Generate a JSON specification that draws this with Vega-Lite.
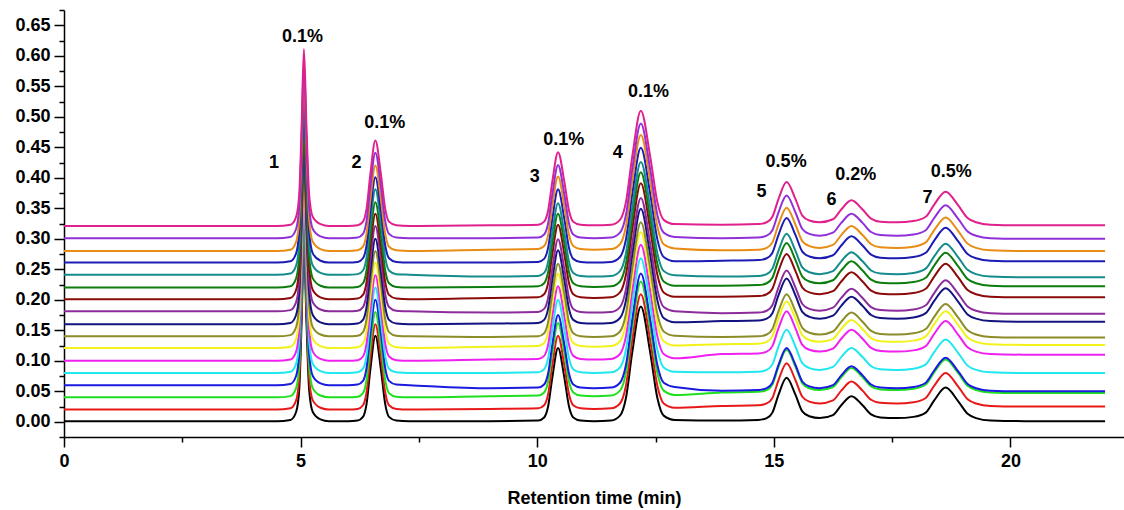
{
  "$schema": "https://vega.github.io/schema/vega-lite/v6.json",
  "width": 1060,
  "height": 427,
  "autosize": {"type": "none"},
  "padding": {"left": 64, "top": 10, "right": 0, "bottom": 73},
  "background": "white",
  "config": {"view": {"stroke": null}, "font": "Liberation Sans"},
  "datasets": {
    "runs": [
      {"t":0,"a":0.001,"b":0.02,"c":0.04,"d":0.06,"e":0.08,"f":0.1,"g":0.121,"h":0.14,"i":0.16,"j":0.181,"k":0.201,"l":0.22,"m":0.241,"n":0.261,"o":0.28,"p":0.301,"q":0.321},
      {"t":4.5,"a":0.001,"b":0.02,"c":0.04,"d":0.06,"e":0.08,"f":0.1,"g":0.121,"h":0.14,"i":0.16,"j":0.181,"k":0.201,"l":0.22,"m":0.241,"n":0.261,"o":0.28,"p":0.301,"q":0.321},
      {"t":4.784,"a":0.003,"b":0.022,"c":0.042,"d":0.062,"e":0.082,"f":0.102,"g":0.123,"h":0.142,"i":0.162,"j":0.183,"k":0.203,"l":0.222,"m":0.243,"n":0.263,"o":0.282,"p":0.303,"q":0.323},
      {"t":4.905,"a":0.016,"b":0.035,"c":0.055,"d":0.075,"e":0.095,"f":0.115,"g":0.136,"h":0.155,"i":0.175,"j":0.196,"k":0.216,"l":0.235,"m":0.256,"n":0.276,"o":0.295,"p":0.316,"q":0.336},
      {"t":4.971,"a":0.053,"b":0.072,"c":0.092,"d":0.112,"e":0.132,"f":0.152,"g":0.173,"h":0.192,"i":0.212,"j":0.233,"k":0.253,"l":0.272,"m":0.293,"n":0.313,"o":0.332,"p":0.353,"q":0.373},
      {"t":5.02,"a":0.161,"b":0.18,"c":0.2,"d":0.22,"e":0.24,"f":0.26,"g":0.281,"h":0.3,"i":0.32,"j":0.341,"k":0.361,"l":0.38,"m":0.401,"n":0.421,"o":0.44,"p":0.461,"q":0.481},
      {"t":5.07,"a":0.291,"b":0.31,"c":0.33,"d":0.35,"e":0.37,"f":0.39,"g":0.411,"h":0.43,"i":0.45,"j":0.471,"k":0.491,"l":0.51,"m":0.531,"n":0.551,"o":0.57,"p":0.591,"q":0.611},
      {"t":5.125,"a":0.161,"b":0.18,"c":0.2,"d":0.22,"e":0.24,"f":0.26,"g":0.281,"h":0.3,"i":0.32,"j":0.341,"k":0.361,"l":0.38,"m":0.401,"n":0.421,"o":0.44,"p":0.461,"q":0.481},
      {"t":5.18,"a":0.053,"b":0.072,"c":0.092,"d":0.112,"e":0.132,"f":0.152,"g":0.173,"h":0.192,"i":0.212,"j":0.233,"k":0.253,"l":0.272,"m":0.293,"n":0.313,"o":0.332,"p":0.353,"q":0.373},
      {"t":5.257,"a":0.016,"b":0.035,"c":0.055,"d":0.075,"e":0.095,"f":0.115,"g":0.136,"h":0.155,"i":0.175,"j":0.196,"k":0.216,"l":0.235,"m":0.256,"n":0.276,"o":0.295,"p":0.316,"q":0.336},
      {"t":5.42,"a":0.004,"b":0.023,"c":0.043,"d":0.063,"e":0.083,"f":0.103,"g":0.124,"h":0.143,"i":0.163,"j":0.184,"k":0.204,"l":0.223,"m":0.244,"n":0.264,"o":0.283,"p":0.304,"q":0.324},
      {"t":5.6,"a":0.001,"b":0.02,"c":0.04,"d":0.06,"e":0.08,"f":0.1,"g":0.121,"h":0.14,"i":0.16,"j":0.181,"k":0.201,"l":0.22,"m":0.241,"n":0.261,"o":0.28,"p":0.301,"q":0.321},
      {"t":6.0,"a":0.001,"b":0.02,"c":0.04,"d":0.06,"e":0.08,"f":0.1,"g":0.121,"h":0.14,"i":0.16,"j":0.181,"k":0.201,"l":0.22,"m":0.241,"n":0.261,"o":0.28,"p":0.301,"q":0.321},
      {"t":6.205,"a":0.002,"b":0.021,"c":0.041,"d":0.061,"e":0.081,"f":0.101,"g":0.122,"h":0.141,"i":0.161,"j":0.182,"k":0.202,"l":0.221,"m":0.242,"n":0.262,"o":0.281,"p":0.302,"q":0.322},
      {"t":6.318,"a":0.008,"b":0.027,"c":0.047,"d":0.067,"e":0.087,"f":0.107,"g":0.128,"h":0.147,"i":0.167,"j":0.188,"k":0.208,"l":0.227,"m":0.248,"n":0.268,"o":0.287,"p":0.308,"q":0.328},
      {"t":6.393,"a":0.029,"b":0.048,"c":0.068,"d":0.088,"e":0.108,"f":0.128,"g":0.149,"h":0.168,"i":0.188,"j":0.209,"k":0.229,"l":0.248,"m":0.269,"n":0.289,"o":0.308,"p":0.329,"q":0.349},
      {"t":6.473,"a":0.085,"b":0.104,"c":0.124,"d":0.144,"e":0.164,"f":0.184,"g":0.205,"h":0.224,"i":0.244,"j":0.265,"k":0.285,"l":0.304,"m":0.325,"n":0.345,"o":0.364,"p":0.385,"q":0.405},
      {"t":6.58,"a":0.141,"b":0.16,"c":0.18,"d":0.2,"e":0.22,"f":0.24,"g":0.261,"h":0.28,"i":0.3,"j":0.321,"k":0.341,"l":0.36,"m":0.381,"n":0.401,"o":0.42,"p":0.441,"q":0.461},
      {"t":6.698,"a":0.085,"b":0.104,"c":0.124,"d":0.144,"e":0.164,"f":0.184,"g":0.205,"h":0.224,"i":0.244,"j":0.265,"k":0.285,"l":0.304,"m":0.325,"n":0.345,"o":0.364,"p":0.385,"q":0.405},
      {"t":6.788,"a":0.029,"b":0.048,"c":0.068,"d":0.088,"e":0.108,"f":0.128,"g":0.149,"h":0.168,"i":0.188,"j":0.209,"k":0.229,"l":0.248,"m":0.269,"n":0.289,"o":0.308,"p":0.329,"q":0.349},
      {"t":6.868,"a":0.008,"b":0.027,"c":0.047,"d":0.067,"e":0.087,"f":0.107,"g":0.128,"h":0.147,"i":0.167,"j":0.188,"k":0.208,"l":0.227,"m":0.248,"n":0.268,"o":0.287,"p":0.308,"q":0.328},
      {"t":7.02,"a":0.002,"b":0.021,"c":0.041,"d":0.061,"e":0.081,"f":0.101,"g":0.122,"h":0.141,"i":0.161,"j":0.182,"k":0.202,"l":0.221,"m":0.242,"n":0.262,"o":0.281,"p":0.302,"q":0.322},
      {"t":7.3,"a":0.001,"b":0.02,"c":0.04,"d":0.06,"e":0.08,"f":0.1,"g":0.121,"h":0.14,"i":0.16,"j":0.181,"k":0.201,"l":0.22,"m":0.241,"n":0.261,"o":0.28,"p":0.301,"q":0.321},
      {"t":9.0,"a":0.001,"b":0.021,"c":0.042,"d":0.055,"e":0.08,"f":0.102,"g":0.123,"h":0.139,"i":0.161,"j":0.179,"k":0.203,"l":0.221,"m":0.238,"n":0.261,"o":0.282,"p":0.301,"q":0.322},
      {"t":10.02,"a":0.002,"b":0.022,"c":0.043,"d":0.056,"e":0.081,"f":0.103,"g":0.124,"h":0.14,"i":0.162,"j":0.18,"k":0.204,"l":0.222,"m":0.239,"n":0.262,"o":0.283,"p":0.302,"q":0.323},
      {"t":10.146,"a":0.007,"b":0.027,"c":0.048,"d":0.061,"e":0.086,"f":0.108,"g":0.129,"h":0.145,"i":0.167,"j":0.185,"k":0.209,"l":0.227,"m":0.244,"n":0.267,"o":0.288,"p":0.307,"q":0.328},
      {"t":10.23,"a":0.025,"b":0.045,"c":0.066,"d":0.079,"e":0.104,"f":0.126,"g":0.147,"h":0.163,"i":0.185,"j":0.203,"k":0.227,"l":0.245,"m":0.262,"n":0.285,"o":0.306,"p":0.325,"q":0.346},
      {"t":10.32,"a":0.073,"b":0.093,"c":0.114,"d":0.127,"e":0.152,"f":0.174,"g":0.195,"h":0.211,"i":0.233,"j":0.251,"k":0.275,"l":0.293,"m":0.31,"n":0.333,"o":0.354,"p":0.373,"q":0.394},
      {"t":10.44,"a":0.121,"b":0.141,"c":0.162,"d":0.175,"e":0.2,"f":0.222,"g":0.243,"h":0.259,"i":0.281,"j":0.299,"k":0.323,"l":0.341,"m":0.358,"n":0.381,"o":0.402,"p":0.421,"q":0.442},
      {"t":10.572,"a":0.073,"b":0.093,"c":0.114,"d":0.127,"e":0.152,"f":0.174,"g":0.195,"h":0.211,"i":0.233,"j":0.251,"k":0.275,"l":0.293,"m":0.31,"n":0.333,"o":0.354,"p":0.373,"q":0.394},
      {"t":10.672,"a":0.025,"b":0.045,"c":0.066,"d":0.079,"e":0.104,"f":0.126,"g":0.147,"h":0.163,"i":0.185,"j":0.203,"k":0.227,"l":0.245,"m":0.262,"n":0.285,"o":0.306,"p":0.325,"q":0.346},
      {"t":10.762,"a":0.007,"b":0.027,"c":0.048,"d":0.061,"e":0.086,"f":0.108,"g":0.129,"h":0.145,"i":0.167,"j":0.185,"k":0.209,"l":0.227,"m":0.244,"n":0.267,"o":0.288,"p":0.307,"q":0.328},
      {"t":10.916,"a":0.002,"b":0.022,"c":0.043,"d":0.056,"e":0.081,"f":0.103,"g":0.124,"h":0.14,"i":0.162,"j":0.18,"k":0.204,"l":0.222,"m":0.239,"n":0.262,"o":0.283,"p":0.302,"q":0.323},
      {"t":11.2,"a":0.001,"b":0.021,"c":0.042,"d":0.055,"e":0.08,"f":0.102,"g":0.123,"h":0.139,"i":0.161,"j":0.179,"k":0.203,"l":0.221,"m":0.238,"n":0.261,"o":0.282,"p":0.301,"q":0.322},
      {"t":11.56,"a":0.002,"b":0.022,"c":0.043,"d":0.056,"e":0.081,"f":0.103,"g":0.124,"h":0.14,"i":0.162,"j":0.18,"k":0.204,"l":0.222,"m":0.239,"n":0.262,"o":0.283,"p":0.302,"q":0.323},
      {"t":11.749,"a":0.01,"b":0.03,"c":0.051,"d":0.064,"e":0.089,"f":0.111,"g":0.132,"h":0.148,"i":0.17,"j":0.188,"k":0.212,"l":0.23,"m":0.247,"n":0.27,"o":0.291,"p":0.31,"q":0.331},
      {"t":11.875,"a":0.039,"b":0.059,"c":0.08,"d":0.093,"e":0.118,"f":0.14,"g":0.161,"h":0.177,"i":0.199,"j":0.217,"k":0.241,"l":0.259,"m":0.276,"n":0.299,"o":0.32,"p":0.339,"q":0.36},
      {"t":12.009,"a":0.114,"b":0.134,"c":0.155,"d":0.168,"e":0.193,"f":0.215,"g":0.236,"h":0.252,"i":0.274,"j":0.292,"k":0.316,"l":0.334,"m":0.351,"n":0.374,"o":0.395,"p":0.414,"q":0.435},
      {"t":12.19,"a":0.189,"b":0.209,"c":0.23,"d":0.243,"e":0.268,"f":0.29,"g":0.311,"h":0.327,"i":0.349,"j":0.367,"k":0.391,"l":0.409,"m":0.426,"n":0.449,"o":0.47,"p":0.489,"q":0.51},
      {"t":12.387,"a":0.114,"b":0.134,"c":0.155,"d":0.168,"e":0.193,"f":0.215,"g":0.236,"h":0.252,"i":0.274,"j":0.292,"k":0.316,"l":0.334,"m":0.351,"n":0.374,"o":0.395,"p":0.414,"q":0.435},
      {"t":12.539,"a":0.039,"b":0.059,"c":0.08,"d":0.093,"e":0.118,"f":0.14,"g":0.161,"h":0.177,"i":0.199,"j":0.217,"k":0.241,"l":0.259,"m":0.276,"n":0.299,"o":0.32,"p":0.339,"q":0.36},
      {"t":12.673,"a":0.01,"b":0.03,"c":0.051,"d":0.064,"e":0.089,"f":0.111,"g":0.132,"h":0.148,"i":0.17,"j":0.188,"k":0.212,"l":0.23,"m":0.247,"n":0.27,"o":0.291,"p":0.31,"q":0.331},
      {"t":12.904,"a":0.003,"b":0.023,"c":0.044,"d":0.057,"e":0.082,"f":0.104,"g":0.125,"h":0.141,"i":0.163,"j":0.181,"k":0.205,"l":0.223,"m":0.24,"n":0.263,"o":0.284,"p":0.303,"q":0.324},
      {"t":13.9,"a":0.002,"b":0.026,"c":0.048,"d":0.051,"e":0.081,"f":0.111,"g":0.127,"h":0.139,"i":0.165,"j":0.178,"k":0.205,"l":0.223,"m":0.238,"n":0.264,"o":0.281,"p":0.301,"q":0.323},
      {"t":14.67,"a":0.003,"b":0.027,"c":0.049,"d":0.052,"e":0.082,"f":0.112,"g":0.128,"h":0.14,"i":0.166,"j":0.179,"k":0.206,"l":0.224,"m":0.239,"n":0.265,"o":0.282,"p":0.302,"q":0.324},
      {"t":14.85,"a":0.006,"b":0.03,"c":0.052,"d":0.055,"e":0.085,"f":0.115,"g":0.131,"h":0.143,"i":0.169,"j":0.182,"k":0.209,"l":0.227,"m":0.242,"n":0.268,"o":0.285,"p":0.305,"q":0.327},
      {"t":14.97,"a":0.015,"b":0.039,"c":0.061,"d":0.064,"e":0.094,"f":0.124,"g":0.14,"h":0.152,"i":0.178,"j":0.191,"k":0.218,"l":0.236,"m":0.251,"n":0.277,"o":0.294,"p":0.314,"q":0.336},
      {"t":15.098,"a":0.044,"b":0.068,"c":0.09,"d":0.093,"e":0.123,"f":0.153,"g":0.169,"h":0.181,"i":0.207,"j":0.22,"k":0.247,"l":0.265,"m":0.28,"n":0.306,"o":0.323,"p":0.343,"q":0.365},
      {"t":15.27,"a":0.072,"b":0.096,"c":0.118,"d":0.121,"e":0.151,"f":0.181,"g":0.197,"h":0.209,"i":0.235,"j":0.248,"k":0.275,"l":0.293,"m":0.308,"n":0.334,"o":0.351,"p":0.371,"q":0.393},
      {"t":15.458,"a":0.044,"b":0.068,"c":0.09,"d":0.093,"e":0.123,"f":0.153,"g":0.169,"h":0.181,"i":0.207,"j":0.22,"k":0.247,"l":0.265,"m":0.28,"n":0.306,"o":0.323,"p":0.343,"q":0.365},
      {"t":15.602,"a":0.017,"b":0.041,"c":0.063,"d":0.066,"e":0.096,"f":0.126,"g":0.142,"h":0.154,"i":0.18,"j":0.193,"k":0.22,"l":0.238,"m":0.253,"n":0.279,"o":0.296,"p":0.316,"q":0.338},
      {"t":15.75,"a":0.009,"b":0.033,"c":0.055,"d":0.058,"e":0.088,"f":0.118,"g":0.134,"h":0.146,"i":0.172,"j":0.185,"k":0.212,"l":0.23,"m":0.245,"n":0.271,"o":0.288,"p":0.308,"q":0.33},
      {"t":15.97,"a":0.006,"b":0.03,"c":0.052,"d":0.055,"e":0.085,"f":0.115,"g":0.131,"h":0.143,"i":0.169,"j":0.182,"k":0.209,"l":0.227,"m":0.242,"n":0.268,"o":0.285,"p":0.305,"q":0.327},
      {"t":16.25,"a":0.011,"b":0.035,"c":0.057,"d":0.06,"e":0.09,"f":0.12,"g":0.136,"h":0.148,"i":0.174,"j":0.187,"k":0.214,"l":0.232,"m":0.247,"n":0.273,"o":0.29,"p":0.31,"q":0.332},
      {"t":16.425,"a":0.027,"b":0.051,"c":0.073,"d":0.076,"e":0.106,"f":0.136,"g":0.152,"h":0.164,"i":0.19,"j":0.203,"k":0.23,"l":0.248,"m":0.263,"n":0.289,"o":0.306,"p":0.326,"q":0.348},
      {"t":16.64,"a":0.042,"b":0.066,"c":0.088,"d":0.091,"e":0.121,"f":0.151,"g":0.167,"h":0.179,"i":0.205,"j":0.218,"k":0.245,"l":0.263,"m":0.278,"n":0.304,"o":0.321,"p":0.341,"q":0.363},
      {"t":16.875,"a":0.027,"b":0.051,"c":0.073,"d":0.076,"e":0.106,"f":0.136,"g":0.152,"h":0.164,"i":0.19,"j":0.203,"k":0.23,"l":0.248,"m":0.263,"n":0.289,"o":0.306,"p":0.326,"q":0.348},
      {"t":17.055,"a":0.012,"b":0.036,"c":0.058,"d":0.061,"e":0.091,"f":0.121,"g":0.137,"h":0.149,"i":0.175,"j":0.188,"k":0.215,"l":0.233,"m":0.248,"n":0.274,"o":0.291,"p":0.311,"q":0.333},
      {"t":17.25,"a":0.007,"b":0.031,"c":0.053,"d":0.056,"e":0.086,"f":0.116,"g":0.132,"h":0.144,"i":0.17,"j":0.183,"k":0.21,"l":0.228,"m":0.243,"n":0.269,"o":0.286,"p":0.306,"q":0.328},
      {"t":17.6,"a":0.006,"b":0.03,"c":0.052,"d":0.055,"e":0.085,"f":0.115,"g":0.131,"h":0.143,"i":0.169,"j":0.182,"k":0.209,"l":0.227,"m":0.242,"n":0.268,"o":0.285,"p":0.305,"q":0.327},
      {"t":17.95,"a":0.008,"b":0.032,"c":0.054,"d":0.057,"e":0.087,"f":0.117,"g":0.133,"h":0.145,"i":0.171,"j":0.184,"k":0.211,"l":0.229,"m":0.244,"n":0.27,"o":0.287,"p":0.307,"q":0.329},
      {"t":18.21,"a":0.015,"b":0.039,"c":0.061,"d":0.064,"e":0.094,"f":0.124,"g":0.14,"h":0.152,"i":0.178,"j":0.191,"k":0.218,"l":0.236,"m":0.251,"n":0.277,"o":0.294,"p":0.314,"q":0.336},
      {"t":18.389,"a":0.035,"b":0.059,"c":0.081,"d":0.084,"e":0.114,"f":0.144,"g":0.16,"h":0.172,"i":0.198,"j":0.211,"k":0.238,"l":0.256,"m":0.271,"n":0.297,"o":0.314,"p":0.334,"q":0.356},
      {"t":18.63,"a":0.056,"b":0.08,"c":0.102,"d":0.105,"e":0.135,"f":0.165,"g":0.181,"h":0.193,"i":0.219,"j":0.232,"k":0.259,"l":0.277,"m":0.292,"n":0.318,"o":0.335,"p":0.355,"q":0.377},
      {"t":18.893,"a":0.034,"b":0.058,"c":0.08,"d":0.083,"e":0.113,"f":0.143,"g":0.159,"h":0.171,"i":0.197,"j":0.21,"k":0.237,"l":0.255,"m":0.27,"n":0.296,"o":0.313,"p":0.333,"q":0.355},
      {"t":19.095,"a":0.013,"b":0.037,"c":0.059,"d":0.062,"e":0.092,"f":0.122,"g":0.138,"h":0.15,"i":0.176,"j":0.189,"k":0.216,"l":0.234,"m":0.249,"n":0.275,"o":0.292,"p":0.312,"q":0.334},
      {"t":19.274,"a":0.006,"b":0.03,"c":0.052,"d":0.055,"e":0.085,"f":0.115,"g":0.131,"h":0.143,"i":0.169,"j":0.182,"k":0.209,"l":0.227,"m":0.242,"n":0.268,"o":0.285,"p":0.305,"q":0.327},
      {"t":19.58,"a":0.002,"b":0.026,"c":0.048,"d":0.051,"e":0.081,"f":0.111,"g":0.127,"h":0.139,"i":0.165,"j":0.178,"k":0.205,"l":0.223,"m":0.238,"n":0.264,"o":0.281,"p":0.301,"q":0.323},
      {"t":20.3,"a":0.001,"b":0.025,"c":0.047,"d":0.05,"e":0.08,"f":0.11,"g":0.126,"h":0.138,"i":0.164,"j":0.177,"k":0.204,"l":0.222,"m":0.237,"n":0.263,"o":0.28,"p":0.3,"q":0.322},
      {"t":22.0,"a":0.001,"b":0.025,"c":0.047,"d":0.05,"e":0.08,"f":0.11,"g":0.126,"h":0.138,"i":0.164,"j":0.177,"k":0.204,"l":0.222,"m":0.237,"n":0.263,"o":0.28,"p":0.3,"q":0.322}
    ],
    "labels": [
      {"t":4.44,"abs":0.425,"s":"1"},
      {"t":5.04,"abs":0.631,"s":"0.1%"},
      {"t":6.18,"abs":0.425,"s":"2"},
      {"t":6.78,"abs":0.489,"s":"0.1%"},
      {"t":9.95,"abs":0.401,"s":"3"},
      {"t":10.56,"abs":0.462,"s":"0.1%"},
      {"t":11.7,"abs":0.441,"s":"4"},
      {"t":12.35,"abs":0.541,"s":"0.1%"},
      {"t":14.74,"abs":0.377,"s":"5"},
      {"t":15.26,"abs":0.426,"s":"0.5%"},
      {"t":16.22,"abs":0.363,"s":"6"},
      {"t":16.73,"abs":0.404,"s":"0.2%"},
      {"t":18.25,"abs":0.366,"s":"7"},
      {"t":18.75,"abs":0.409,"s":"0.5%"}
    ]
  },
  "encoding": {
    "x": {
      "field": "t",
      "type": "quantitative",
      "scale": {"domain": [0, 22.4], "nice": false, "zero": false},
      "axis": {
        "title": "Retention time (min)",
        "titleFontSize": 18,
        "titleFontWeight": "bold",
        "titleColor": "black",
        "titlePadding": 19,
        "values": [0, 2.5, 5, 7.5, 10, 12.5, 15, 17.5, 20],
        "labelExpr": "datum.value % 5 === 0 ? datum.label : ''",
        "labelFontSize": 18,
        "labelFontWeight": "bold",
        "labelColor": "black",
        "labelPadding": 5,
        "labelFlush": false,
        "labelOverlap": false,
        "tickSize": {"condition": {"test": "datum.value % 5 === 0", "value": 10}, "value": 5},
        "tickColor": "black",
        "tickWidth": 1.5,
        "domainColor": "black",
        "domainWidth": 1.5,
        "grid": false
      }
    },
    "y": {
      "field": "abs",
      "type": "quantitative",
      "scale": {"domain": [-0.025, 0.675], "nice": false, "zero": false},
      "axis": {
        "title": null,
        "values": [-0.025, 0, 0.025, 0.05, 0.075, 0.1, 0.125, 0.15, 0.175, 0.2, 0.225, 0.25, 0.275, 0.3, 0.325, 0.35, 0.375, 0.4, 0.425, 0.45, 0.475, 0.5, 0.525, 0.55, 0.575, 0.6, 0.625, 0.65, 0.675],
        "labelExpr": "round(datum.value * 1000) % 50 === 0 ? format(datum.value, '.2f') : ''",
        "labelFontSize": 18,
        "labelFontWeight": "bold",
        "labelColor": "black",
        "labelPadding": 4,
        "labelFlush": false,
        "labelOverlap": false,
        "tickSize": {"condition": {"test": "round(datum.value * 1000) % 50 === 0", "value": 10}, "value": 5},
        "tickColor": "black",
        "tickWidth": 1.5,
        "domainColor": "black",
        "domainWidth": 1.5,
        "grid": false
      }
    }
  },
  "layer": [
    {
      "data": {"name": "runs"},
      "transform": [
        {"fold": ["a","b","c","d","e","f","g","h","i","j","k","l","m","n","o","p","q"], "as": ["run", "abs"]}
      ],
      "mark": {"type": "line", "interpolate": "monotone", "strokeWidth": 2},
      "encoding": {
        "color": {
          "field": "run",
          "type": "nominal",
          "scale": {
            "domain": ["a","b","c","d","e","f","g","h","i","j","k","l","m","n","o","p","q"],
            "range": ["#000000","#e81818","#1ee01e","#1a1ae0","#20e8f0","#f020f0","#f2f21a","#8c8c28","#121280","#8c2c9c","#8c0a0a","#0c7c0c","#148c8c","#1c1cb4","#e88c14","#9030d8","#e0208c"]
          },
          "legend": null
        }
      }
    },
    {
      "data": {"name": "labels"},
      "mark": {"type": "text", "fontSize": 18, "fontWeight": "bold", "font": "Liberation Sans", "color": "black", "align": "center", "baseline": "middle"},
      "encoding": {
        "text": {"field": "s"}
      }
    }
  ]
}
